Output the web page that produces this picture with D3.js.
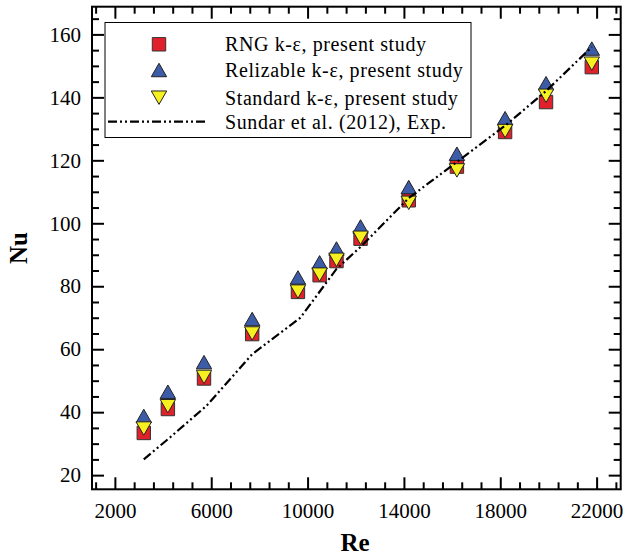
<!DOCTYPE html>
<html>
<head>
<meta charset="utf-8">
<script src="https://cdn.jsdelivr.net/npm/d3@7"></script>
<style>
  body { margin: 0; background: #fff; }
  svg text { font-family: "Liberation Serif", "Times New Roman", serif; fill: #000; }
</style>
</head>
<body>
<svg id="chart" width="627" height="557"></svg>
<script>
// Re values shared by all three simulation series
var reValues = [3200, 4200, 5700, 7700, 9600, 10500, 11200, 12200, 14200, 16200, 18200, 19900, 21800];
var nuRNG = [33.4, 41, 50.7, 64.8, 78.2, 83.5, 88, 95.1, 107.3, 118, 129, 138.5, 149.6];
var nuRealizable = [38.8, 46.5, 55.9, 69.6, 82.8, 87.6, 92, 99, 111.5, 122.1, 133.4, 144.5, 155.5];
var nuStandard = [34.8, 41.9, 51.2, 65, 78.3, 83.7, 88.4, 95.4, 106.5, 116.8, 129.3, 140.5, 150.7];

// Sundar et al. (2012) experiment
var expRe = [3200, 4200, 5800, 7700, 9700, 11200, 12200, 14200, 16200, 18200, 19900, 21800];
var expNu = [25, 31.4, 42, 58.4, 70, 85.5, 92.5, 108, 119.5, 131, 142, 156];

var xTicks = [2000, 6000, 10000, 14000, 18000, 22000];
var yTicks = [20, 40, 60, 80, 100, 120, 140, 160];
var legendLabels = ["RNG k-ε, present study", "Relizable k-ε, present study",
                    "Standard k-ε, present study", "Sundar et al. (2012), Exp."];

var margin = { left: 92, top: 6.7, right: 6.3, bottom: 67.7 };
var W = 627 - margin.left - margin.right;
var H = 557 - margin.top - margin.bottom;

var svg = d3.select("#chart");
var g = svg.append("g").attr("transform", "translate(" + margin.left + "," + margin.top + ")");

var x = d3.scaleLinear().domain([1050, 23000]).range([0, W]);
var y = d3.scaleLinear().domain([15.5, 168.8]).range([H, 0]);

var xMinor = d3.range(1200, 23000, 800).filter(function (v) { return xTicks.indexOf(v) < 0; });
var yMinor = d3.range(20, 168, 5).filter(function (v) { return yTicks.indexOf(v) < 0; });

function styleAxis(sel) {
    sel.select(".domain").remove();
    sel.selectAll("line").attr("stroke", "#000").attr("stroke-width", 2);
    sel.selectAll("text").style("font-size", "21px");
}

// minor ticks
g.append("g").attr("transform", "translate(0," + H + ")")
    .call(d3.axisBottom(x).tickValues(xMinor).tickSize(-7).tickFormat("")).call(styleAxis);
g.append("g")
    .call(d3.axisTop(x).tickValues(xMinor).tickSize(-7).tickFormat("")).call(styleAxis);
g.append("g")
    .call(d3.axisLeft(y).tickValues(yMinor).tickSize(-7).tickFormat("")).call(styleAxis);
g.append("g").attr("transform", "translate(" + W + ",0)")
    .call(d3.axisRight(y).tickValues(yMinor).tickSize(-7).tickFormat("")).call(styleAxis);

// major ticks
g.append("g").attr("transform", "translate(0," + H + ")")
    .call(d3.axisBottom(x).tickValues(xTicks).tickSize(-12).tickPadding(14).tickFormat(d3.format("d")))
    .call(styleAxis);
g.append("g")
    .call(d3.axisTop(x).tickValues(xTicks).tickSize(-12).tickFormat("")).call(styleAxis);
g.append("g")
    .call(d3.axisLeft(y).tickValues(yTicks).tickSize(-12).tickPadding(11).tickFormat(d3.format("d")))
    .call(styleAxis);
g.append("g").attr("transform", "translate(" + W + ",0)")
    .call(d3.axisRight(y).tickValues(yTicks).tickSize(-12).tickFormat("")).call(styleAxis);

g.append("rect").attr("width", W).attr("height", H)
    .attr("fill", "none").attr("stroke", "#000").attr("stroke-width", 2);

// markers
var sqSym = d3.symbol().type(d3.symbolSquare).size(180);
function triUp(s) { return "M0," + (-s * 0.48) + "L" + (s * 0.55) + "," + (s * 0.48) + "L" + (-s * 0.55) + "," + (s * 0.48) + "Z"; }
function triDown(s) { return "M0," + (s * 0.48) + "L" + (s * 0.55) + "," + (-s * 0.48) + "L" + (-s * 0.55) + "," + (-s * 0.48) + "Z"; }

var red = "#e0202a", blue = "#3c5ca8", yellow = "#f7f020";

g.append("g").selectAll("path").data(reValues).enter().append("path")
    .attr("d", sqSym)
    .attr("transform", function (d, i) { return "translate(" + x(d) + "," + y(nuRNG[i]) + ")"; })
    .attr("fill", red).attr("stroke", "#333").attr("stroke-width", 1);

g.append("g").selectAll("path").data(reValues).enter().append("path")
    .attr("d", triUp(14))
    .attr("transform", function (d, i) { return "translate(" + x(d) + "," + y(nuRealizable[i]) + ")"; })
    .attr("fill", blue).attr("stroke", "#222").attr("stroke-width", 1);

g.append("g").selectAll("path").data(reValues).enter().append("path")
    .attr("d", triDown(14))
    .attr("transform", function (d, i) { return "translate(" + x(d) + "," + y(nuStandard[i]) + ")"; })
    .attr("fill", yellow).attr("stroke", "#222").attr("stroke-width", 1);

var line = d3.line().x(function (d) { return x(d[0]); }).y(function (d) { return y(d[1]); });
g.append("path")
    .datum(expRe.map(function (r, i) { return [r, expNu[i]]; }))
    .attr("d", line)
    .attr("fill", "none").attr("stroke", "#000").attr("stroke-width", 2.2)
    .attr("stroke-dasharray", "9,3,2,3,2,3");

// legend
var leg = svg.append("g");
leg.append("rect").attr("x", 105).attr("y", 22.5).attr("width", 366).attr("height", 115)
    .attr("fill", "#fff").attr("stroke", "#000").attr("stroke-width", 1);
var rowsY = [44.3, 70, 97.7, 121.7];
leg.append("path").attr("d", sqSym).attr("transform", "translate(159," + rowsY[0] + ")")
    .attr("fill", red).attr("stroke", "#333").attr("stroke-width", 1);
leg.append("path").attr("d", triUp(14)).attr("transform", "translate(159," + rowsY[1] + ")")
    .attr("fill", blue).attr("stroke", "#222").attr("stroke-width", 1);
leg.append("path").attr("d", triDown(14)).attr("transform", "translate(159," + rowsY[2] + ")")
    .attr("fill", yellow).attr("stroke", "#222").attr("stroke-width", 1);
leg.append("line").attr("x1", 108).attr("x2", 205).attr("y1", rowsY[3]).attr("y2", rowsY[3])
    .attr("stroke", "#000").attr("stroke-width", 2.2).attr("stroke-dasharray", "9,3,2,3,2,3");
leg.selectAll("text.lab").data(legendLabels).enter().append("text")
    .attr("class", "lab")
    .attr("x", 225).attr("y", function (d, i) { return rowsY[i]; })
    .attr("dy", "0.35em")
    .style("font-size", "20px").style("letter-spacing", "0.6px")
    .text(function (d) { return d; });

// axis titles
svg.append("text").attr("x", 355).attr("y", 551).attr("text-anchor", "middle")
    .style("font-size", "25px").style("font-weight", "bold").text("Re");
svg.append("text").attr("transform", "translate(27,248) rotate(-90)").attr("text-anchor", "middle")
    .style("font-size", "25px").style("font-weight", "bold").text("Nu");
</script>
</body>
</html>
